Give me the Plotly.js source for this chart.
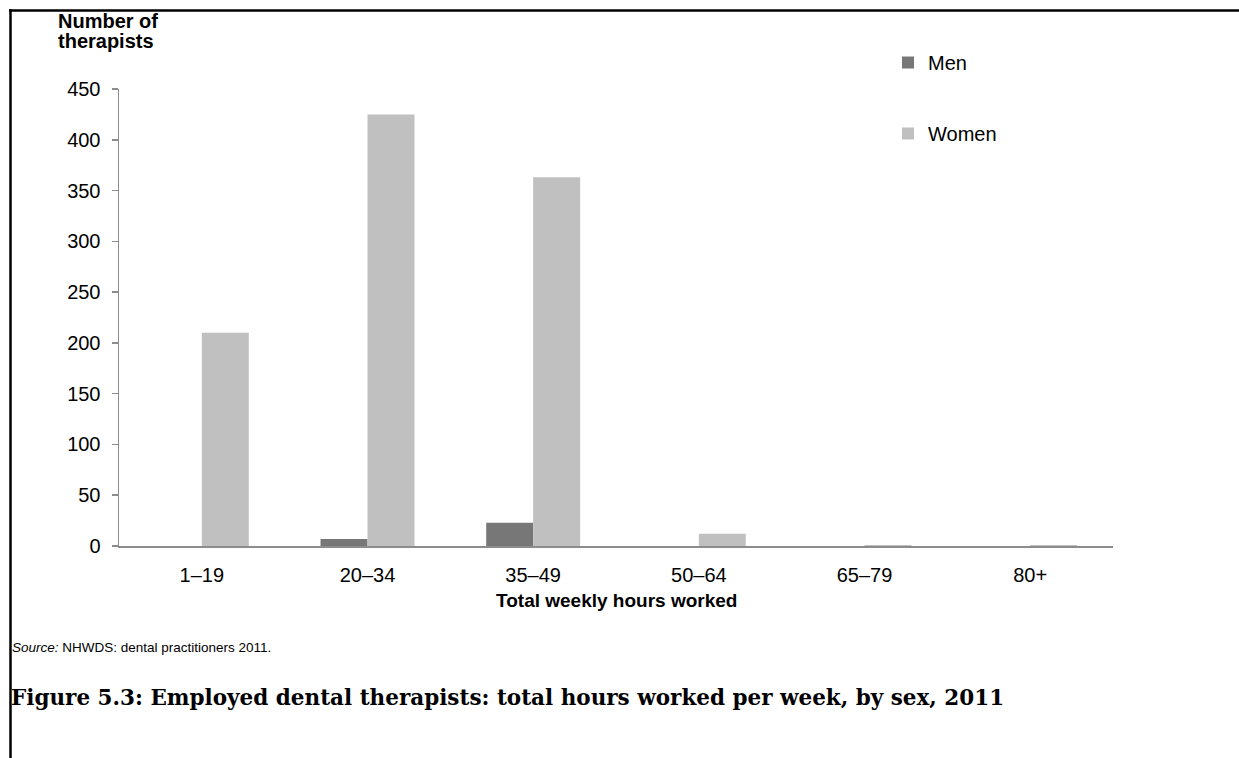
<!DOCTYPE html>
<html>
<head>
<meta charset="utf-8">
<script src="https://cdn.plot.ly/plotly-3.0.1.min.js"></script>
<style>
  html, body { margin: 0; padding: 0; background: #fff; }
  #chart { width: 1239px; height: 758px; }
</style>
</head>
<body>
<div id="chart"></div>
<script>
const categories = ["1–19", "20–34", "35–49", "50–64", "65–79", "80+"];
const menValues = [0, 7, 23, 0, 0, 0];
const womenValues = [210, 425, 363, 12, 1, 1];
const yTickValues = [0, 50, 100, 150, 200, 250, 300, 350, 400, 450];

const W = 1239, H = 758;
const L = 119, R = 1113, T = 88.5, B = 545.7;
const pw = R - L, ph = B - T;
const px = x => (x - L) / pw;
const py = y => (B - y) / ph;

const FONT = 'Liberation Sans, Arial, sans-serif';

const traces = [
  {
    type: 'bar', name: 'Men', x: categories, y: menValues,
    marker: { color: '#777777' }, legend: 'legend', hoverinfo: 'x+y+name'
  },
  {
    type: 'bar', name: 'Women', x: categories, y: womenValues,
    marker: { color: '#c0c0c0' }, legend: 'legend2', hoverinfo: 'x+y+name'
  }
];

const layout = {
  width: W, height: H,
  margin: { l: L, r: W - R, t: T, b: H - B, pad: 0 },
  paper_bgcolor: '#ffffff', plot_bgcolor: '#ffffff',
  font: { family: FONT, size: 20, color: '#000000' },
  barmode: 'group', bargap: 0.433, bargroupgap: 0,
  showlegend: true,
  legend: {
    x: px(888), y: py(62), xanchor: 'left', yanchor: 'middle',
    font: { family: FONT, size: 20, color: '#000' }, bgcolor: 'rgba(0,0,0,0)',
    itemwidth: 30
  },
  legend2: {
    x: px(888), y: py(133), xanchor: 'left', yanchor: 'middle',
    font: { family: FONT, size: 20, color: '#000' }, bgcolor: 'rgba(0,0,0,0)',
    itemwidth: 30
  },
  xaxis: {
    type: 'category', showline: true, linecolor: '#8c8c8c', linewidth: 1.5,
    ticks: '', showgrid: false, zeroline: false,
    tickfont: { family: FONT, size: 20, color: '#000' },
    ticklabelstandoff: 10, fixedrange: true
  },
  yaxis: {
    range: [0, 450], tickvals: yTickValues, ticktext: yTickValues.map(String),
    showline: true, linecolor: '#8c8c8c', linewidth: 1.5,
    ticks: 'outside', ticklen: 6, tickcolor: '#8c8c8c', tickwidth: 1.5,
    showgrid: false, zeroline: false,
    tickfont: { family: FONT, size: 20, color: '#000' },
    ticklabelstandoff: 7, fixedrange: true
  },
  annotations: [
    {
      xref: 'paper', yref: 'paper', x: px(56), y: py(20), xanchor: 'left', yanchor: 'middle',
      align: 'left', showarrow: false, text: '<b>Number of</b>',
      font: { family: FONT, size: 20, color: '#000' }
    },
    {
      xref: 'paper', yref: 'paper', x: px(56), y: py(40), xanchor: 'left', yanchor: 'middle',
      align: 'left', showarrow: false, text: '<b>therapists</b>',
      font: { family: FONT, size: 20, color: '#000' }
    },
    {
      xref: 'paper', yref: 'paper', x: px(616), y: py(600), xanchor: 'center', yanchor: 'middle',
      showarrow: false, text: '<b>Total weekly hours worked</b>',
      font: { family: FONT, size: 19, color: '#000' }
    },
    {
      xref: 'paper', yref: 'paper', x: px(10), y: py(647), xanchor: 'left', yanchor: 'middle',
      showarrow: false, text: '<i>Source:</i> NHWDS: dental practitioners 2011.',
      font: { family: FONT, size: 13.5, color: '#000' }
    },
    {
      xref: 'paper', yref: 'paper', x: px(9), y: py(697), xanchor: 'left', yanchor: 'middle',
      showarrow: false,
      text: '<b>Figure 5.3: Employed dental therapists: total hours worked per week, by sex, 2011</b>',
      font: { family: 'DejaVu Serif, serif', size: 21.5, color: '#000' }
    }
  ],
  shapes: [
    {
      type: 'line', xref: 'paper', yref: 'paper', layer: 'above',
      x0: px(9), x1: px(1240), y0: py(10), y1: py(10),
      line: { color: '#000', width: 2.5 }
    },
    {
      type: 'line', xref: 'paper', yref: 'paper', layer: 'above',
      x0: px(10.5), x1: px(10.5), y0: py(8.8), y1: py(760),
      line: { color: '#000', width: 2.5 }
    }
  ]
};

Plotly.newPlot('chart', traces, layout, { displayModeBar: false, responsive: false, staticPlot: true });
</script>
</body>
</html>
